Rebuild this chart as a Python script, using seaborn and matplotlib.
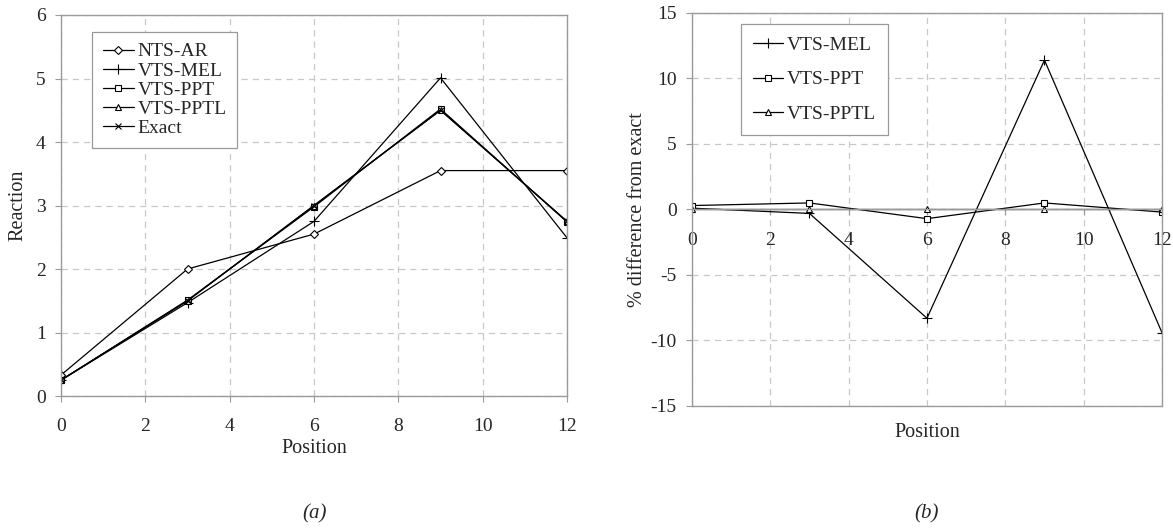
import matplotlib
matplotlib.use("Agg")
import matplotlib.pyplot as plt
import seaborn as sns

# ---- data ----
positions = [0, 3, 6, 9, 12]
nts_ar = [0.33, 2.00, 2.55, 3.55, 3.55]
vts_mel = [0.25, 1.47, 2.75, 5.01, 2.49]
vts_ppt = [0.25, 1.51, 2.98, 4.52, 2.74]
vts_pptl = [0.25, 1.50, 3.00, 4.50, 2.75]
exact = [0.25, 1.50, 3.00, 4.50, 2.75]

diff_mel = [0.1, -0.3, -8.3, 11.4, -9.4]
diff_ppt = [0.3, 0.5, -0.7, 0.5, -0.2]
diff_pptl = [0.0, 0.0, 0.0, 0.0, 0.0]

left_xticks = [0, 2, 4, 6, 8, 10, 12]
left_yticks = [0, 1, 2, 3, 4, 5, 6]
right_yticks = [-15, -10, -5, 0, 5, 10, 15]

sns.set_theme(style="white")
plt.rcParams['font.family'] = ['Liberation Serif', 'DejaVu Serif']

FS = 14
LFS = 14.5
GRID = '#c8c8c8'
SPINE = '#9a9a9a'

fig = plt.figure(figsize=(11.73, 5.30), dpi=100)
ax1 = fig.add_axes([0.052, 0.2528, 0.4314, 0.7189])
ax2 = fig.add_axes([0.5899, 0.234, 0.4007, 0.7415])

def style_kw(marker, ms=5):
    return dict(color='black', marker=marker, markersize=ms,
                markerfacecolor='white', markeredgecolor='black',
                markeredgewidth=0.8, linewidth=0.9)

# ---- left panel ----
sns.lineplot(x=positions, y=nts_ar, ax=ax1, label='NTS-AR', **style_kw('D', 4.5))
sns.lineplot(x=positions, y=vts_mel, ax=ax1, label='VTS-MEL', **style_kw('+', 7))
sns.lineplot(x=positions, y=vts_ppt, ax=ax1, label='VTS-PPT', **style_kw('s', 5))
sns.lineplot(x=positions, y=vts_pptl, ax=ax1, label='VTS-PPTL', **style_kw('^', 5))
sns.lineplot(x=positions, y=exact, ax=ax1, label='Exact', **style_kw('x', 5))

ax1.set_xlim(0, 12)
ax1.set_ylim(0, 6)
ax1.set_xticks(left_xticks)
ax1.set_yticks(left_yticks)
ax1.set_xlabel('Position', fontsize=LFS)
ax1.set_ylabel('Reaction', fontsize=LFS)
ax1.xaxis.set_label_coords(0.5, -0.112)
ax1.yaxis.set_label_coords(-0.067, 0.5)
ax1.grid(True, color=GRID, linestyle=(0, (5, 4)), linewidth=0.9)
ax1.set_axisbelow(True)
for s in ax1.spines.values():
    s.set_color(SPINE)
    s.set_linewidth(1.0)
ax1.tick_params(axis='both', labelsize=FS, direction='out', length=4,
                color=SPINE, width=0.8, bottom=True, left=True)
ax1.tick_params(axis='x', pad=12)
ax1.tick_params(axis='y', pad=7)
leg1 = ax1.legend(loc='upper left', bbox_to_anchor=(0.061, 0.955), borderaxespad=0,
                  fontsize=FS, frameon=True, fancybox=False, framealpha=1,
                  edgecolor=SPINE, handlelength=1.6, handletextpad=0.2,
                  labelspacing=0.08, borderpad=0.55)
leg1.get_frame().set_linewidth(0.9)

# ---- right panel ----
sns.lineplot(x=positions, y=diff_mel, ax=ax2, label='VTS-MEL', **style_kw('+', 7))
sns.lineplot(x=positions, y=diff_ppt, ax=ax2, label='VTS-PPT', **style_kw('s', 5))
sns.lineplot(x=positions, y=diff_pptl, ax=ax2, label='VTS-PPTL', **style_kw('^', 5))

ax2.set_xlim(0, 12)
ax2.set_ylim(-15, 15)
ax2.set_xticks(left_xticks)
ax2.set_yticks(right_yticks)
ax2.set_yticklabels([str(v) for v in right_yticks])
ax2.grid(True, color=GRID, linestyle=(0, (5, 4)), linewidth=0.9)
ax2.set_axisbelow(True)
for s in ax2.spines.values():
    s.set_color(SPINE)
    s.set_linewidth(1.0)
ax2.spines['bottom'].set_position(('data', 0))
ax2.axhline(-15, color=SPINE, linewidth=1.0, clip_on=False, zorder=3)
ax2.tick_params(axis='both', labelsize=FS, direction='out', length=4,
                color=SPINE, width=0.8, bottom=True, left=True)
ax2.tick_params(axis='x', pad=12)
ax2.tick_params(axis='y', pad=7)
ax2.set_xlabel('Position', fontsize=LFS)
ax2.xaxis.set_label_coords(0.5, -0.043)
ax2.set_ylabel('% difference from exact', fontsize=LFS)
ax2.yaxis.set_label_coords(-0.096, 0.5)
leg2 = ax2.legend(loc='upper left', bbox_to_anchor=(0.104, 0.972), borderaxespad=0,
                  fontsize=FS, frameon=True, fancybox=False, framealpha=1,
                  edgecolor=SPINE, handlelength=1.5, handletextpad=0.2,
                  labelspacing=0.85, borderpad=0.65)
leg2.get_frame().set_linewidth(0.9)

# ---- sub captions ----
fig.text(0.268, 0.030, '(a)', fontsize=FS + 1, style='italic', ha='center', va='center')
fig.text(0.790, 0.030, '(b)', fontsize=FS + 1, style='italic', ha='center', va='center')

fig.savefig('out.png', dpi=100, facecolor='white')
